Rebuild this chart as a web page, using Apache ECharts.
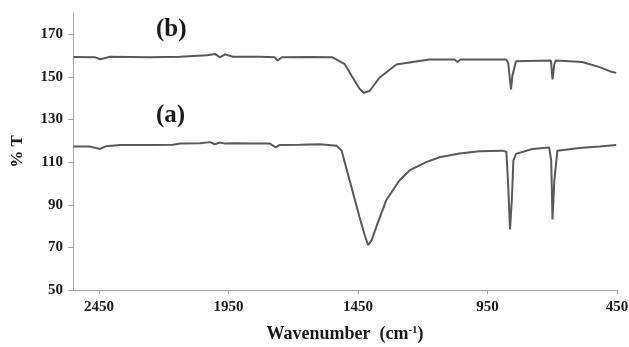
<!DOCTYPE html>
<html>
<head>
<meta charset="utf-8">
<script src="https://cdn.jsdelivr.net/npm/echarts@6/dist/echarts.min.js"></script>
<style>
  html, body { margin: 0; padding: 0; background: #fff; }
  #chart { width: 629px; height: 347px; }
</style>
</head>
<body>
<div id="chart"></div>
<script>
// Spectrum (a)
var waveA = [2548, 2484, 2445, 2422, 2368, 2252, 2164, 2137, 2060, 2021, 2002, 1983, 1963, 1925, 1867, 1829, 1790, 1767, 1752, 1675, 1597, 1533, 1513, 1482, 1444, 1424, 1411, 1397, 1379, 1341, 1290, 1251, 1187, 1135, 1058, 981, 892, 877, 870, 863, 856, 850, 840, 777, 712, 704, 699, 692, 680, 596, 517, 453];
var transA = [117.3, 117.3, 116.2, 117.5, 118.1, 118.0, 118.2, 118.8, 118.9, 119.4, 118.4, 119.2, 118.7, 118.9, 118.8, 118.8, 118.7, 116.9, 118.1, 118.2, 118.4, 117.7, 115.4, 101.4, 84.3, 75.8, 71.1, 73.4, 79.7, 92.1, 101.4, 106.1, 110.0, 112.3, 114.1, 115.1, 115.4, 114.9, 99.1, 78.4, 92.1, 110.7, 113.9, 116.2, 116.9, 110.7, 83.1, 101.4, 115.4, 116.6, 117.3, 118.0];
// Spectrum (b)
var waveB = [2548, 2464, 2445, 2406, 2252, 2137, 2033, 2002, 1983, 1963, 1933, 1829, 1771, 1760, 1744, 1636, 1548, 1501, 1474, 1443, 1428, 1405, 1367, 1302, 1239, 1174, 1077, 1066, 1054, 878, 870, 859, 854, 840, 750, 705, 699, 692, 686, 585, 517, 478, 453];
var transB = [159.4, 159.2, 158.3, 159.5, 159.2, 159.5, 160.2, 160.8, 159.2, 160.6, 159.5, 159.5, 159.2, 157.7, 159.2, 159.4, 159.2, 156.0, 150.4, 144.3, 142.6, 143.4, 149.6, 155.8, 157.0, 158.2, 158.2, 157.0, 158.2, 158.2, 156.5, 144.2, 150.4, 157.4, 157.6, 157.7, 148.8, 156.0, 157.7, 157.0, 154.6, 152.7, 151.9];
// Tick labels
var xTicks = [2450, 1950, 1450, 950, 450];
var yTicks = [50, 70, 90, 110, 130, 150, 170];
var labels = ['(b)', '(a)'];

function pairs(xs, ys) {
  var out = [];
  for (var i = 0; i < xs.length; i++) out.push([xs[i], ys[i]]);
  return out;
}

var serif = "'Liberation Serif', 'Times New Roman', serif";
var axisColor = '#a6a6a6';
var lineColor = '#595959';
var plain = function (v) { return String(v); };

var chart = echarts.init(document.getElementById('chart'), null, { renderer: 'canvas' });
chart.setOption({
  animation: false,
  backgroundColor: '#ffffff',
  grid: { left: 73, right: 12, top: 13, bottom: 57, containLabel: false, outerBoundsMode: 'none' },
  xAxis: {
    type: 'value',
    inverse: true,
    min: 450,
    max: 2550,
    name: 'Wavenumber  (cm{s|-1})',
    nameLocation: 'middle',
    nameGap: 35,
    nameTextStyle: {
      fontFamily: serif, fontWeight: 'bold', fontSize: 18, color: '#1a1a1a',
      rich: { s: { fontFamily: serif, fontWeight: 'bold', fontSize: 11, color: '#1a1a1a', verticalAlign: 'top', padding: [0, 0, 6, 0] } }
    },
    axisLine: { onZero: false, lineStyle: { color: axisColor, width: 1 } },
    axisTick: { show: true, length: 4, customValues: xTicks, lineStyle: { color: axisColor } },
    axisLabel: { customValues: xTicks, formatter: plain, fontFamily: serif, fontWeight: 'bold', fontSize: 15, color: '#1a1a1a', margin: 10 },
    splitLine: { show: false }
  },
  yAxis: {
    type: 'value',
    min: 50,
    max: 180,
    name: '% T',
    nameLocation: 'middle',
    nameRotate: 90,
    nameGap: 47,
    nameTextStyle: { fontFamily: serif, fontWeight: 'bold', fontSize: 17, color: '#1a1a1a' },
    axisLine: { show: true, onZero: false, lineStyle: { color: axisColor, width: 1 } },
    axisTick: { show: true, length: 5, customValues: yTicks, lineStyle: { color: axisColor } },
    axisLabel: { customValues: yTicks, formatter: plain, fontFamily: serif, fontWeight: 'bold', fontSize: 15, color: '#1a1a1a', margin: 10 },
    splitLine: { show: false }
  },
  graphic: [
    { type: 'text', left: 156, top: 17, style: { text: labels[0], font: 'bold 25px ' + serif, fill: '#1a1a1a' } },
    { type: 'text', left: 156, top: 103, style: { text: labels[1], font: 'bold 25px ' + serif, fill: '#1a1a1a' } }
  ],
  series: [
    {
      name: 'a', type: 'line', data: pairs(waveA, transA), showSymbol: false, symbol: 'none',
      lineStyle: { color: lineColor, width: 2 }, z: 3
    },
    {
      name: 'b', type: 'line', data: pairs(waveB, transB), showSymbol: false, symbol: 'none',
      lineStyle: { color: lineColor, width: 2 }, z: 3
    }
  ]
});
</script>
</body>
</html>
